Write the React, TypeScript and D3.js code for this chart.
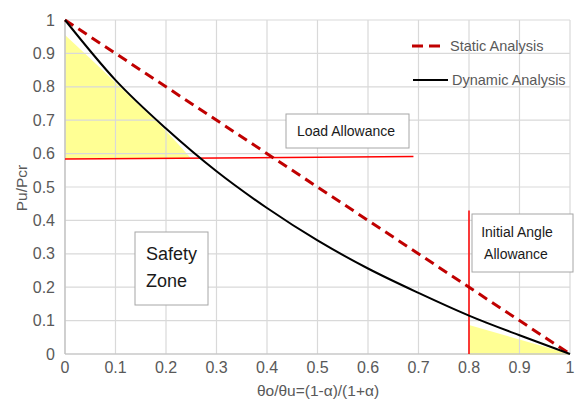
import React from "react";
import * as d3 from "d3";

// Horizontal axis: θo/θu
const xTicks = [0, 0.1, 0.2, 0.3, 0.4, 0.5, 0.6, 0.7, 0.8, 0.9, 1];
const yTicks = [0, 0.1, 0.2, 0.3, 0.4, 0.5, 0.6, 0.7, 0.8, 0.9, 1];

// Static analysis: straight line
const staticX = [0, 1];
const staticY = [1, 0];

// Dynamic analysis curve
const dynamicX = [0, 0.1, 0.2, 0.3, 0.4, 0.5, 0.6, 0.7, 0.8, 0.9, 1];
const dynamicY = [1, 0.82, 0.675, 0.547, 0.437, 0.34, 0.256, 0.183, 0.115, 0.056, 0];

// Load allowance level line
const loadLineX = [0, 0.69];
const loadLineY = [0.584, 0.591];

// Shaded load allowance region (top edge, bottom is the load line)
const loadZoneX = [0, 0.05, 0.1, 0.15, 0.2, 0.248];
const loadZoneY = [0.955, 0.885, 0.813, 0.74, 0.668, 0.588];

// Initial angle allowance marker
const angleLineX = 0.8;
const angleLineY = [0, 0.43];

// Shaded initial angle region
const angleZoneX = [0.8, 1];
const angleZoneY = [0.087, 0];

const W = 583;
const H = 403;
const FONT = "'Liberation Sans', Arial, sans-serif";

export default function App() {
  const x = d3.scaleLinear().domain([0, 1]).range([65, 570]);
  const y = d3.scaleLinear().domain([0, 1]).range([354, 20]);

  const loadAt = d3.scaleLinear().domain(loadLineX).range(loadLineY);

  const dynLine = d3
    .line<number>()
    .x((_, i) => x(dynamicX[i]))
    .y((d) => y(d))
    .curve(d3.curveMonotoneX)(dynamicY) as string;

  const statLine = d3
    .line<number>()
    .x((_, i) => x(staticX[i]))
    .y((d) => y(d))(staticY) as string;

  const loadArea = d3
    .area<number>()
    .x((_, i) => x(loadZoneX[i]))
    .y0((_, i) => y(loadAt(loadZoneX[i])))
    .y1((d) => y(d))
    .curve(d3.curveMonotoneX)(loadZoneY) as string;

  const angleArea = d3
    .area<number>()
    .x((_, i) => x(angleZoneX[i]))
    .y0(() => y(0) + 1)
    .y1((d) => y(d))(angleZoneY) as string;

  const tickColor = "#595959";
  const gridColor = "#d9d9d9";

  return (
    <svg
      width={W}
      height={H}
      style={{ position: "absolute", left: 0, top: 0, background: "#fff" }}
      fontFamily={FONT}
    >
      <rect width={W} height={H} fill="#fff" />

      {/* shaded regions */}
      <path d={loadArea} fill="#ffff00" fillOpacity={0.42} />
      <path d={angleArea} fill="#ffff00" fillOpacity={0.42} />

      {/* grid */}
      {xTicks.map((t) => (
        <line key={"gx" + t} x1={x(t)} x2={x(t)} y1={y(0)} y2={y(1)} stroke={gridColor} strokeWidth={1.2} />
      ))}
      {yTicks.map((t) => (
        <line key={"gy" + t} x1={x(0)} x2={x(1)} y1={y(t)} y2={y(t)} stroke={gridColor} strokeWidth={1.2} />
      ))}
      <line x1={x(0)} x2={x(0)} y1={y(0)} y2={y(1)} stroke="#bfbfbf" strokeWidth={1.2} />
      <line x1={x(0)} x2={x(1)} y1={y(0)} y2={y(0)} stroke="#bfbfbf" strokeWidth={1.2} />

      {/* tick labels */}
      {yTicks.map((t) => (
        <text key={"ty" + t} x={55} y={y(t)} dy="0.35em" textAnchor="end" fontSize={16} fill={tickColor}>
          {String(t)}
        </text>
      ))}
      {xTicks.map((t) => (
        <text key={"tx" + t} x={x(t)} y={373} textAnchor="middle" fontSize={16} fill={tickColor}>
          {String(t)}
        </text>
      ))}

      {/* axis titles */}
      <text x={318} y={396} textAnchor="middle" fontSize={15.5} fill={tickColor}>
        θo/θu=(1-α)/(1+α)
      </text>
      <text
        transform={`translate(22,188) rotate(-90)`}
        textAnchor="middle"
        dy="0.35em"
        fontSize={15.5}
        fill={tickColor}
      >
        Pu/Pcr
      </text>

      {/* load allowance level */}
      <line
        x1={x(loadLineX[0])}
        x2={x(loadLineX[1])}
        y1={y(loadLineY[0])}
        y2={y(loadLineY[1])}
        stroke="#ff0000"
        strokeWidth={1.5}
      />
      {/* initial angle marker */}
      <line
        x1={x(angleLineX)}
        x2={x(angleLineX)}
        y1={y(angleLineY[0])}
        y2={y(angleLineY[1])}
        stroke="#ff0000"
        strokeWidth={1.5}
      />

      {/* series */}
      <path d={statLine} fill="none" stroke="#c00000" strokeWidth={3} strokeDasharray="10,6" />
      <path d={dynLine} fill="none" stroke="#000" strokeWidth={2} />

      {/* legend */}
      <line x1={412} x2={441} y1={46} y2={46} stroke="#c00000" strokeWidth={3} strokeDasharray="11,6" />
      <text x={450} y={46} dy="0.35em" fontSize={14.5} fill={tickColor}>
        Static Analysis
      </text>
      <line x1={413} x2={448} y1={80} y2={80} stroke="#000" strokeWidth={2} />
      <text x={452} y={80} dy="0.35em" fontSize={14.5} fill={tickColor}>
        Dynamic Analysis
      </text>

      {/* annotation boxes */}
      <rect x={286} y={114} width={123} height={34} fill="#fff" stroke="#a6a6a6" strokeWidth={1} />
      <text x={297} y={131} dy="0.35em" fontSize={14} fill="#1a1a1a">
        Load Allowance
      </text>

      <rect x={472} y={214} width={101} height={58} fill="#fff" stroke="#a6a6a6" strokeWidth={1} />
      <text x={517} y={232} dy="0.35em" textAnchor="middle" fontSize={14} fill="#1a1a1a">
        Initial Angle
      </text>
      <text x={516} y={254} dy="0.35em" textAnchor="middle" fontSize={14} fill="#1a1a1a">
        Allowance
      </text>

      <rect x={135} y={232} width={73} height={73} fill="#fff" stroke="#a6a6a6" strokeWidth={1} />
      <text x={146} y={254} dy="0.35em" fontSize={18} fill="#1a1a1a">
        Safety
      </text>
      <text x={146} y={281} dy="0.35em" fontSize={18} fill="#1a1a1a">
        Zone
      </text>
    </svg>
  );
}
